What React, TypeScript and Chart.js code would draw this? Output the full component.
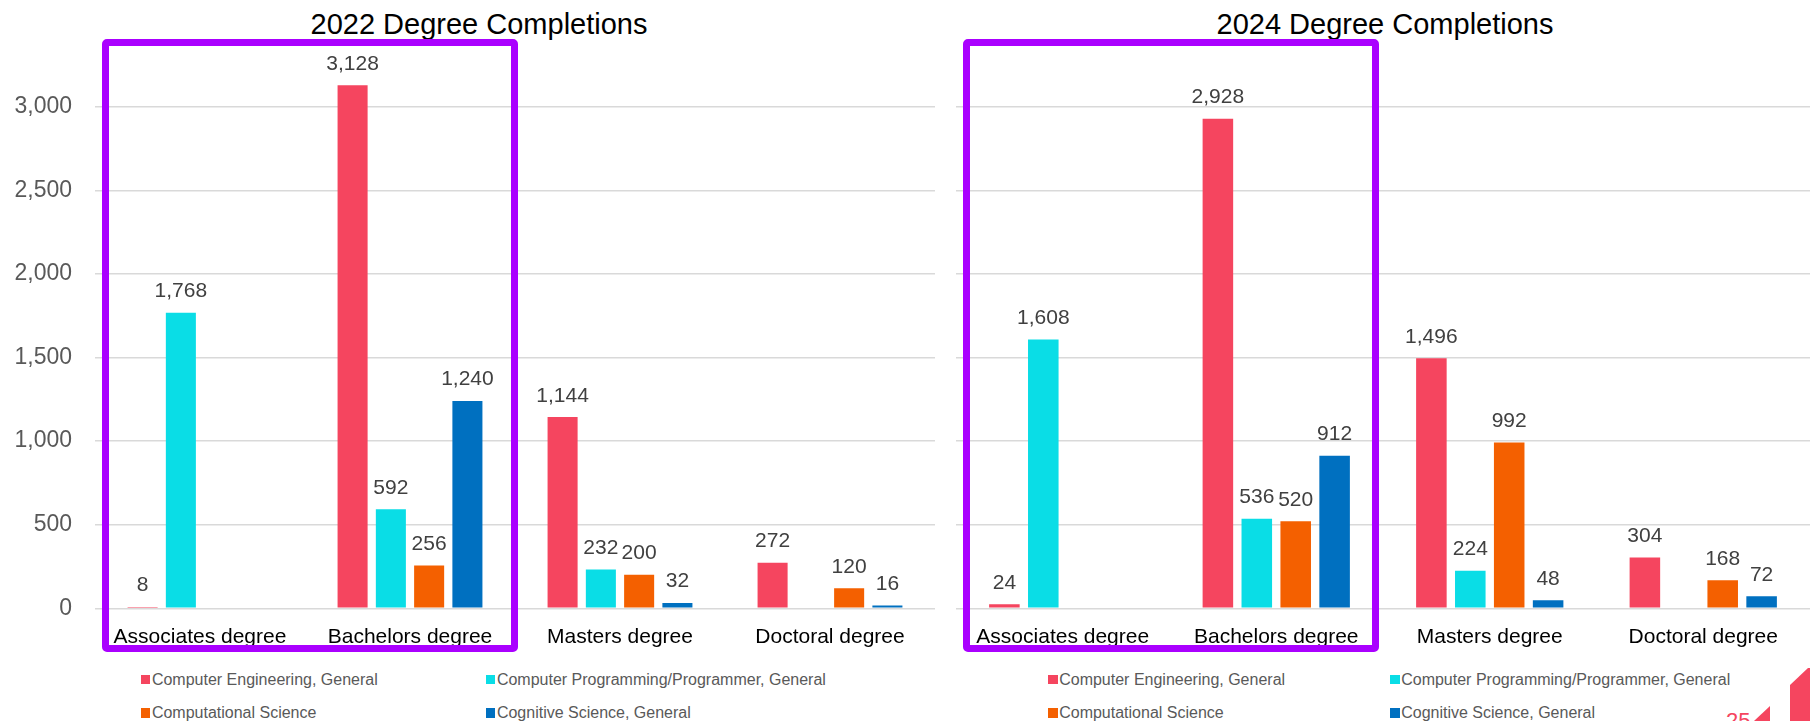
import { useEffect, useRef } from 'react'
import { Chart, registerables } from 'chart.js'
Chart.register(...registerables)

const DEGREES = ['Associates degree', 'Bachelors degree', 'Masters degree', 'Doctoral degree']
const PROGRAMS = ['Computer Engineering, General', 'Computer Programming/Programmer, General', 'Computational Science', 'Cognitive Science, General']
const COLORS = ['#f5455f', '#0adde6', '#f46000', '#0070c0']

// 2022 completions per program (null = no bar)
const ENG_2022 = [8, 3128, 1144, 272]
const PROG_2022 = [1768, 592, 232, null]
const COMP_2022 = [null, 256, 200, 120]
const COG_2022 = [null, 1240, 32, 16]

// 2024 completions per program
const ENG_2024 = [24, 2928, 1496, 304]
const PROG_2024 = [1608, 536, 224, null]
const COMP_2024 = [null, 520, 992, 168]
const COG_2024 = [null, 912, 48, 72]

const Y_TICKS = [0, 500, 1000, 1500, 2000, 2500, 3000]

const FONT = "'Liberation Sans', Arial, sans-serif"
const fmtN = (v: number) => v.toLocaleString('en-US')

const valueLabels = {
  id: 'valueLabels',
  afterDatasetsDraw(chart: Chart) {
    const { ctx } = chart
    ctx.save()
    ctx.font = `21px ${FONT}`
    ctx.fillStyle = '#404040'
    ctx.textAlign = 'center'
    ctx.textBaseline = 'alphabetic'
    chart.data.datasets.forEach((ds, i) => {
      chart.getDatasetMeta(i).data.forEach((bar, j) => {
        const v = ds.data[j] as number | null
        if (v == null) return
        ctx.fillText(fmtN(v), bar.x, bar.y - 15.5)
      })
    })
    ctx.restore()
  }
}

type Props = { left: number, width: number, axisWidth: number, padRight: number, showTicks: boolean, series: (number | null)[][] }

function DegreeChart({ left, width, axisWidth, padRight, showTicks, series }: Props) {
  const ref = useRef<HTMLCanvasElement>(null)

  useEffect(() => {
    if (!ref.current) return
    const chart = new Chart(ref.current, {
      type: 'bar',
      data: {
        labels: DEGREES,
        datasets: PROGRAMS.map((p, i) => ({
          label: p, data: series[i], backgroundColor: COLORS[i],
          categoryPercentage: 0.729, barPercentage: 0.785
        }))
      },
      options: {
        animation: false, responsive: true, maintainAspectRatio: false,
        layout: { padding: { top: 39.85, right: padRight, left: 0, bottom: 0 } },
        plugins: { legend: { display: false }, tooltip: { enabled: false } },
        scales: {
          x: {
            grid: { display: false }, border: { display: false },
            ticks: { color: '#000', font: { size: 21, family: FONT }, padding: 8, maxRotation: 0, autoSkip: false },
            afterFit: (a: any) => { a.height = 51.7 }
          },
          y: {
            min: 0, max: 3400,
            afterBuildTicks: (a: any) => { a.ticks = Y_TICKS.map(value => ({ value })) },
            grid: { color: '#d9d9d9', lineWidth: 1.5, drawTicks: false },
            border: { display: false },
            ticks: { display: showTicks, color: '#595959', font: { size: 23, family: FONT }, padding: 23, callback: (v: number | string) => fmtN(+v) },
            afterFit: (a: any) => { a.width = axisWidth }
          }
        }
      } as never,
      plugins: [valueLabels]
    })
    return () => chart.destroy()
  }, [])

  return (
    <div style={{ position: 'absolute', left, top: 0, width, height: 660 }}>
      <canvas ref={ref} />
    </div>
  )
}

function LegendItem({ x, top, color, label }: { x: number, top: number, color: string, label: string }) {
  return (
    <div style={{ position: 'absolute', left: x, top, display: 'flex', alignItems: 'center', height: 16, whiteSpace: 'nowrap', fontSize: 16, lineHeight: '16px', color: '#595959' }}>
      <div style={{ width: 9.5, height: 9.5, background: color, marginRight: 1.7 }}></div>{label}
    </div>
  )
}

const boxStyle = (left: number) => ({
  position: 'absolute' as const, left, top: 39, width: 416, height: 613, boxSizing: 'border-box' as const,
  border: '7px solid #aa00ff', borderRadius: 5, pointerEvents: 'none' as const
})

export default function App() {
  const legendCols = [[140.7, 485.7], [1048, 1390]]
  const rows = [671.5, 704.8]
  return (
    <div style={{ position: 'absolute', left: 0, top: 0, width: 1810, height: 721, overflow: 'hidden', background: '#fff', fontFamily: FONT }}>
      <div style={{ position: 'absolute', left: 0, width: 958, top: 9.8, textAlign: 'center', fontSize: 29, lineHeight: '29px', color: '#000' }}>2022 Degree Completions</div>
      <div style={{ position: 'absolute', left: 985, width: 800, top: 9.8, textAlign: 'center', fontSize: 29, lineHeight: '29px', color: '#000' }}>2024 Degree Completions</div>

      <DegreeChart left={0} width={940} axisWidth={95} padRight={5} showTicks={true} series={[ENG_2022, PROG_2022, COMP_2022, COG_2022]} />
      <DegreeChart left={940} width={870} axisWidth={16} padRight={0} showTicks={false} series={[ENG_2024, PROG_2024, COMP_2024, COG_2024]} />

      <div style={boxStyle(102)}></div>
      <div style={boxStyle(963)}></div>

      {legendCols.map((cols, c) => PROGRAMS.map((p, i) => (
        <LegendItem key={c + '-' + i} x={cols[i % 2]} top={rows[Math.floor(i / 2)]} color={COLORS[i]} label={p} />
      )))}

      <div style={{ position: 'absolute', left: 1726, top: 709.8, fontSize: 22, lineHeight: '22px', color: '#f5455f' }}>25</div>
      <div style={{ position: 'absolute', left: 1754, top: 706, width: 16, height: 15, background: '#f5455f', clipPath: 'polygon(100% 0, 100% 100%, 0 100%)' }}></div>
      <div style={{ position: 'absolute', left: 1790, top: 668, width: 20, height: 53, background: '#f5455f', clipPath: 'polygon(0 32%, 90% 0, 100% 0, 100% 100%, 0 100%)' }}></div>
    </div>
  )
}
